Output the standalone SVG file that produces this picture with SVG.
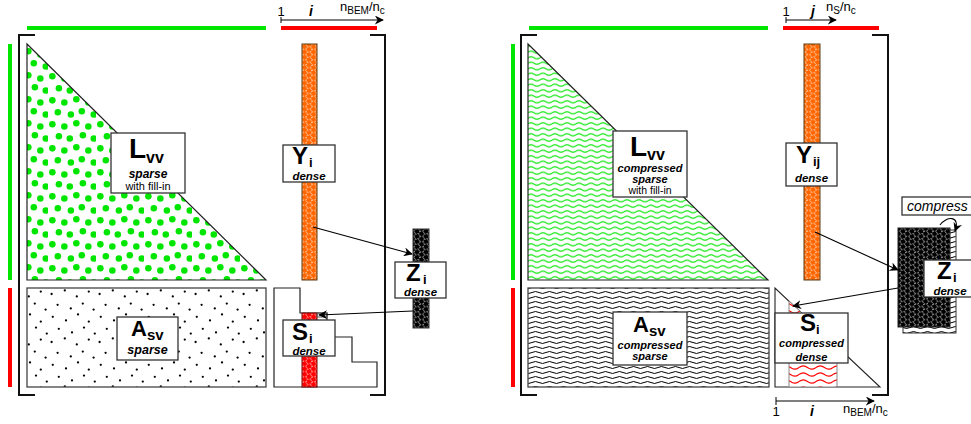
<svg xmlns="http://www.w3.org/2000/svg" width="971" height="424" viewBox="0 0 971 424">
<style>
text{font-family:"Liberation Sans",Arial,sans-serif;fill:#000}
.big{font-weight:bold}
.bi{font-weight:bold;font-style:italic}
.it{font-style:italic}
.box{fill:#fff;stroke:#333;stroke-width:1.3}
.br{fill:none;stroke:#111;stroke-width:2}
.con{fill:none;stroke:#000;stroke-width:1.1}
.gbar{fill:#00e600}
.rbar{fill:#ff0000}
.region{stroke:#444;stroke-width:1.3}
</style>
<defs>
<marker id="ah" viewBox="0 0 10 10" refX="9" refY="5" markerWidth="9" markerHeight="9" markerUnits="userSpaceOnUse" orient="auto">
<path d="M0,0 L10,5 L0,10 L3,5 Z" fill="#000"/>
</marker>
<pattern id="greenDots" patternUnits="userSpaceOnUse" width="48" height="48">
<g fill="#00e600" transform="scale(1.09)">
<circle cx="4" cy="4" r="3"/><circle cx="15" cy="6" r="3"/><circle cx="26" cy="3" r="3"/><circle cx="37" cy="6" r="3"/>
<circle cx="9" cy="15" r="3"/><circle cx="21" cy="17" r="3"/><circle cx="31" cy="14" r="3"/><circle cx="42" cy="17" r="3"/>
<circle cx="4" cy="26" r="3"/><circle cx="15" cy="28" r="3"/><circle cx="26" cy="25" r="3"/><circle cx="37" cy="28" r="3"/>
<circle cx="10" cy="37" r="3"/><circle cx="20" cy="39" r="3"/><circle cx="32" cy="36" r="3"/><circle cx="42" cy="39" r="3"/>
</g>
</pattern>
<pattern id="blackDots" patternUnits="userSpaceOnUse" width="48" height="48">
<g fill="#000" transform="scale(1.2)">
<circle cx="3" cy="5" r="0.95"/><circle cx="14" cy="2" r="0.95"/><circle cx="24" cy="7" r="0.95"/><circle cx="34" cy="3" r="0.95"/>
<circle cx="8" cy="14" r="0.95"/><circle cx="19" cy="17" r="0.95"/><circle cx="29" cy="13" r="0.95"/><circle cx="38" cy="18" r="0.95"/>
<circle cx="4" cy="24" r="0.95"/><circle cx="15" cy="27" r="0.95"/><circle cx="25" cy="22" r="0.95"/><circle cx="34" cy="28" r="0.95"/>
<circle cx="9" cy="34" r="0.95"/><circle cx="20" cy="37" r="0.95"/><circle cx="30" cy="33" r="0.95"/><circle cx="39" cy="38" r="0.95"/>
</g>
</pattern>
<pattern id="hexOrange" patternUnits="userSpaceOnUse" width="9" height="5.196">
<rect width="9" height="5.2" fill="#ff6600"/>
<path d="M0,2.598 L1.5,0 L4.5,0 L6,2.598 L4.5,5.196 L1.5,5.196 Z M6,2.598 L9,2.598" fill="none" stroke="#fff" stroke-width="0.7" stroke-dasharray="1 0.8"/>
</pattern>
<pattern id="hexRed" patternUnits="userSpaceOnUse" width="9" height="5.196">
<rect width="9" height="5.2" fill="#ff0000"/>
<path d="M0,2.598 L1.5,0 L4.5,0 L6,2.598 L4.5,5.196 L1.5,5.196 Z M6,2.598 L9,2.598" fill="none" stroke="#fff" stroke-width="0.7" stroke-dasharray="1 0.8"/>
</pattern>
<pattern id="hexBlack" patternUnits="userSpaceOnUse" width="9" height="5.196">
<rect width="9" height="5.2" fill="#000"/>
<path d="M0,2.598 L1.5,0 L4.5,0 L6,2.598 L4.5,5.196 L1.5,5.196 Z M6,2.598 L9,2.598" fill="none" stroke="#fff" stroke-width="0.7" stroke-dasharray="1 0.8"/>
</pattern>
<pattern id="greenWaves" patternUnits="userSpaceOnUse" width="12" height="5.5">
<rect width="12" height="5.5" fill="#fff"/>
<path d="M0,2.75 Q3,0.6 6,2.75 T12,2.75" fill="none" stroke="#00e600" stroke-width="1"/>
</pattern>
<pattern id="blackWaves" patternUnits="userSpaceOnUse" width="14" height="5">
<rect width="14" height="5" fill="#fff"/>
<path d="M0,2.5 Q3.5,0.5 7,2.5 T14,2.5" fill="none" stroke="#000" stroke-width="1"/>
</pattern>
<pattern id="redWaves" patternUnits="userSpaceOnUse" width="17" height="7">
<rect width="17" height="7" fill="#fff"/>
<path d="M0,3.5 Q4.25,0.2 8.5,3.5 T17,3.5" fill="none" stroke="#ff0000" stroke-width="1.1"/>
</pattern>
<clipPath id="sTri"><polygon points="775,288 775,387 880,387"/></clipPath>
</defs>

<!-- ============ LEFT PANEL ============ -->
<g id="left-axes">
<rect class="gbar" x="27" y="26" width="239" height="4"/>
<rect class="rbar" x="281" y="26" width="96" height="4"/>
<rect class="gbar" x="8" y="44" width="4" height="236"/>
<rect class="rbar" x="8" y="288" width="4" height="99"/>
<path class="br" d="M35,35 H19 V395 H35"/>
<path class="br" d="M370,35 H385 V395 H370"/>
<path d="M281,17 V23 M281,20 H383" stroke="#000" stroke-width="1" fill="none" marker-end="url(#ah)"/>
<text x="281" y="16" font-size="13" text-anchor="middle">1</text>
<text x="311" y="16" font-size="14" class="bi" text-anchor="middle">i</text>
<text x="340" y="11" font-size="13">n<tspan font-size="10" dy="3">BEM</tspan><tspan dy="-3">/n</tspan><tspan font-size="10" dy="3">c</tspan></text>
</g>

<g id="L_vv_left">
<polygon points="27,44 27,280 266,280" fill="url(#greenDots)" stroke="#222" stroke-width="1.2"/>
<rect class="box" x="111" y="133" width="74" height="60"/>
<text x="129" y="158" font-size="28" class="big">L<tspan font-size="16" x="146" dy="5">vv</tspan></text>
<text x="148" y="178" font-size="12" class="bi" text-anchor="middle">sparse</text>
<text x="148" y="190" font-size="11" text-anchor="middle">with fill-in</text>
</g>

<g id="A_sv_left">
<rect x="27" y="288" width="239" height="99" fill="url(#blackDots)" class="region"/>
<rect class="box" x="117" y="317" width="61" height="43"/>
<text x="131" y="336" font-size="22" class="big">A<tspan font-size="15" x="147" dy="4">sv</tspan></text>
<text x="147.5" y="354" font-size="12.5" class="bi" text-anchor="middle">sparse</text>
</g>

<g id="Y_i">
<rect x="302" y="44" width="15" height="236" fill="url(#hexOrange)" stroke="#5a3a10" stroke-width="1"/>
<rect class="box" x="283" y="145" width="52" height="37"/>
<text x="292" y="164" font-size="24" class="big">Y<tspan font-size="13" x="309" dy="3">i</tspan></text>
<text x="309" y="180" font-size="11.5" class="bi" text-anchor="middle">dense</text>
</g>

<g id="S_i">
<path d="M274,288 H300 V313 H327 V337 H352 V362 H377 V387 H274 Z" fill="#fff" stroke="#222" stroke-width="1.2"/>
<rect x="302" y="313" width="15" height="74" fill="url(#hexRed)" stroke="#700" stroke-width="1"/>
<rect x="317" y="313" width="10" height="4" fill="none" stroke="#555" stroke-width="1"/>
<rect class="box" x="283" y="320" width="52" height="36"/>
<text x="292" y="339.5" font-size="24" class="big">S<tspan font-size="13" x="309" dy="3">i</tspan></text>
<text x="309" y="355" font-size="11.5" class="bi" text-anchor="middle">dense</text>
</g>

<g id="Z_i_left">
<rect x="413" y="229" width="16" height="99" fill="url(#hexBlack)" stroke="#333" stroke-width="1"/>
<rect class="box" x="395" y="262" width="51" height="36"/>
<text x="406" y="281" font-size="24" class="big">Z<tspan font-size="13" x="423" dy="3">i</tspan></text>
<text x="420.5" y="296" font-size="11.5" class="bi" text-anchor="middle">dense</text>
</g>

<!-- ============ RIGHT PANEL ============ -->
<g id="right-axes">
<rect class="gbar" x="529" y="26" width="239" height="4"/>
<rect class="rbar" x="783" y="26" width="96" height="4"/>
<rect class="gbar" x="511" y="44" width="4" height="236"/>
<rect class="rbar" x="511" y="288" width="4" height="99"/>
<path class="br" d="M537,35 H521 V395 H537"/>
<path class="br" d="M872,35 H888 V395 H872"/>
<path d="M786,17 V23 M786,20 H836" stroke="#000" stroke-width="1" fill="none" marker-end="url(#ah)"/>
<text x="786" y="16" font-size="13" text-anchor="middle">1</text>
<text x="813" y="16" font-size="14" class="bi" text-anchor="middle">j</text>
<text x="826" y="11" font-size="13">n<tspan font-size="10" dy="3">S</tspan><tspan dy="-3">/n</tspan><tspan font-size="10" dy="3">c</tspan></text>
<path d="M776,397 V405 M776,401 H874" stroke="#000" stroke-width="1" fill="none" marker-end="url(#ah)"/>
<text x="776" y="416" font-size="13" text-anchor="middle">1</text>
<text x="812" y="416" font-size="14" class="bi" text-anchor="middle">i</text>
<text x="843" y="413" font-size="13">n<tspan font-size="10" dy="3">BEM</tspan><tspan dy="-3">/n</tspan><tspan font-size="10" dy="3">c</tspan></text>
</g>

<g id="L_vv_right">
<polygon points="528,44 528,280 768,280" fill="url(#greenWaves)" stroke="#222" stroke-width="1.2"/>
<rect class="box" x="613" y="131" width="74" height="66"/>
<text x="630" y="156" font-size="28" class="big">L<tspan font-size="16" x="647" dy="4">vv</tspan></text>
<text x="650" y="172" font-size="11" class="bi" text-anchor="middle">compressed</text>
<text x="650" y="182.5" font-size="11" class="bi" text-anchor="middle">sparse</text>
<text x="650" y="193.5" font-size="10.5" text-anchor="middle">with fill-in</text>
</g>

<g id="A_sv_right">
<rect x="528" y="288" width="241" height="99" fill="url(#blackWaves)" class="region"/>
<rect class="box" x="613" y="312" width="74" height="53"/>
<text x="633" y="332" font-size="22" class="big">A<tspan font-size="15" x="649" dy="4">sv</tspan></text>
<text x="650" y="349" font-size="11" class="bi" text-anchor="middle">compressed</text>
<text x="650" y="360" font-size="11" class="bi" text-anchor="middle">sparse</text>
</g>

<g id="Y_ij">
<rect x="804" y="44" width="16" height="236" fill="url(#hexOrange)" stroke="#5a3a10" stroke-width="1"/>
<rect class="box" x="786" y="143" width="51" height="43"/>
<text x="796" y="163" font-size="24" class="big">Y<tspan font-size="13" x="813" dy="3">ij</tspan></text>
<text x="811.5" y="182" font-size="11.5" class="bi" text-anchor="middle">dense</text>
</g>

<g id="S_i_right">
<polygon points="775,288 775,387 880,387" fill="#fff" stroke="#222" stroke-width="1.1"/>
<rect x="789" y="288" width="48" height="99" fill="url(#redWaves)" stroke="#888" stroke-width="1" clip-path="url(#sTri)"/>
<rect class="box" x="775" y="313" width="73" height="50"/>
<text x="800" y="331" font-size="24" class="big">S<tspan font-size="13" x="816" dy="3">i</tspan></text>
<text x="811.5" y="347" font-size="11" class="bi" text-anchor="middle">compressed</text>
<text x="811.5" y="360.5" font-size="11" class="bi" text-anchor="middle">dense</text>
</g>

<g id="Z_i_right">
<rect x="903" y="230" width="53" height="103" fill="url(#blackWaves)" stroke="#333" stroke-width="1"/>
<rect x="898" y="228" width="52" height="99" fill="url(#hexBlack)" stroke="#222" stroke-width="1"/>
<rect class="box" x="924" y="260" width="55" height="37"/>
<text x="937" y="279" font-size="24" class="big">Z<tspan font-size="13" x="953" dy="3">i</tspan></text>
<text x="950" y="294.5" font-size="11.5" class="bi" text-anchor="middle">dense</text>
</g>

<g id="compress">
<rect class="box" x="902" y="197" width="75" height="18"/>
<text x="907" y="211" font-size="14" class="it">compress</text>
</g>

<g id="connectors">
<line class="con" x1="313" y1="227" x2="412" y2="254" marker-end="url(#ah)"/>
<line class="con" x1="413" y1="311" x2="319" y2="315" marker-end="url(#ah)"/>
<line class="con" x1="815" y1="232" x2="898" y2="270" marker-end="url(#ah)"/>
<line class="con" x1="898" y1="288" x2="793" y2="306" marker-end="url(#ah)"/>
<path class="con" d="M940,225 C946,216 961,215 955,231" marker-end="url(#ah)"/>
</g>
</svg>
